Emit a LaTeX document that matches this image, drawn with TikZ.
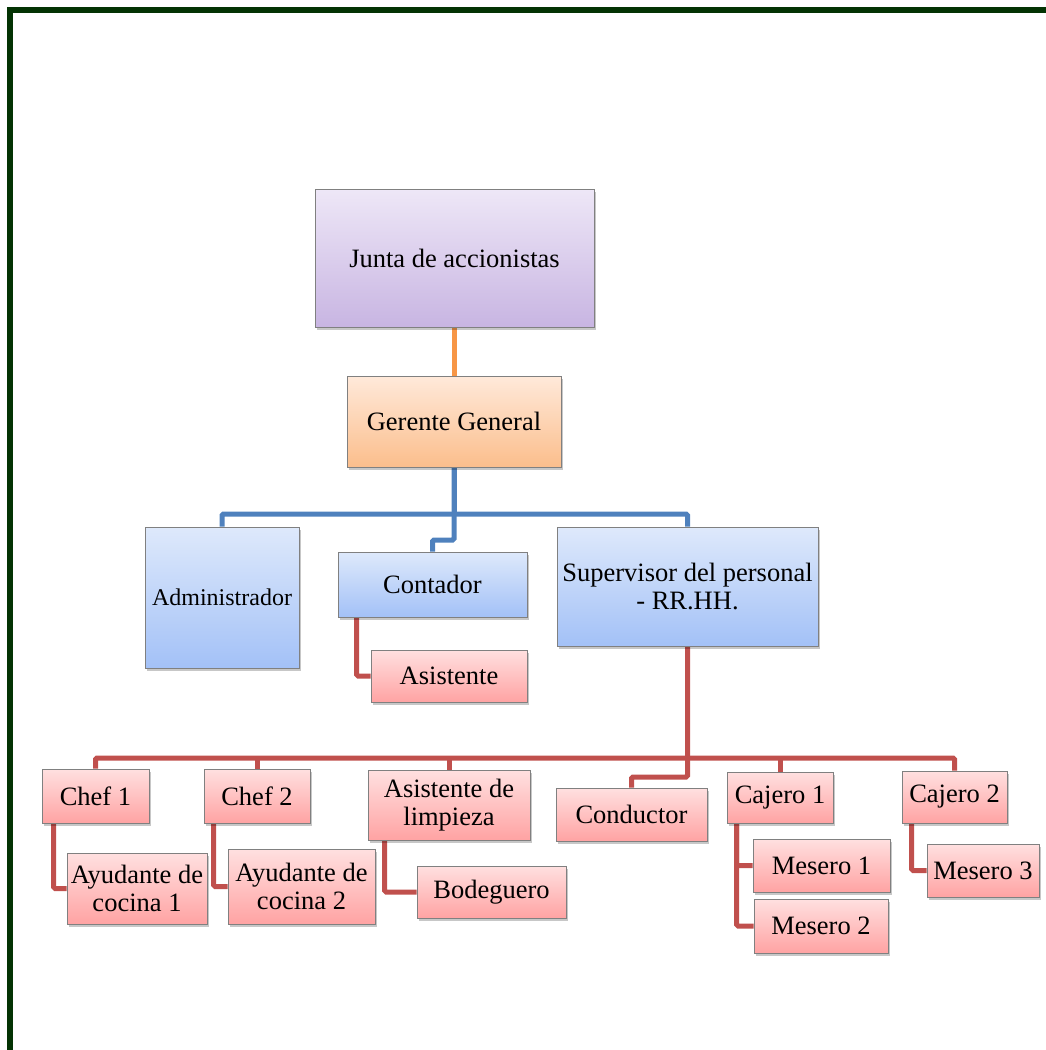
\documentclass[tikz,border=0pt]{standalone}
\usepackage{fontspec}
\setmainfont{Liberation Serif}
\usetikzlibrary{shadows,backgrounds}
\definecolor{framegreen}{RGB}{3,51,3}
\definecolor{boxborder}{RGB}{128,128,128}
\definecolor{purpleTop}{RGB}{238,231,247}
\definecolor{purpleBot}{RGB}{200,181,226}
\definecolor{orangeTop}{RGB}{255,233,218}
\definecolor{orangeBot}{RGB}{251,190,140}
\definecolor{blueTop}{RGB}{222,233,251}
\definecolor{blueBot}{RGB}{163,193,247}
\definecolor{redTop}{RGB}{255,224,224}
\definecolor{redBot}{RGB}{255,163,163}
\definecolor{orangeLine}{RGB}{247,150,70}
\definecolor{blueLine}{RGB}{79,129,189}
\definecolor{redLine}{RGB}{192,80,77}
\tikzset{
  box/.style={draw=boxborder, line width=0.9pt, align=center, inner sep=2pt,
    drop shadow={shadow xshift=2pt, shadow yshift=-3pt, fill=black, opacity=0.22},
    font=\fontsize{26.5}{28}\selectfont},
  purplebox/.style={box, top color=purpleTop, bottom color=purpleBot},
  orangebox/.style={box, top color=orangeTop, bottom color=orangeBot},
  bluebox/.style={box, top color=blueTop, bottom color=blueBot},
  redbox/.style={box, top color=redTop, bottom color=redBot},
  conn/.style={line width=5pt, rounded corners=1.5pt},
  oconn/.style={conn, draw=orangeLine},
  bconn/.style={conn, draw=blueLine},
  rconn/.style={conn, draw=redLine},
}
\begin{document}
\begin{tikzpicture}[x=1pt, y=-1pt]
\useasboundingbox (0,0) rectangle (1046,1050);
\draw[line width=6pt, framegreen] (10,1050) -- (10,10) -- (1046,10);

\node[purplebox, minimum width=279pt, minimum height=138pt] (junta) at (454.5,258) {Junta de accionistas};
\node[orangebox, minimum width=214pt, minimum height=91pt] (gerente) at (454,421.5) {Gerente General};
\node[bluebox, minimum width=154pt, minimum height=141pt, font=\fontsize{24}{26}\selectfont] (admin) at (222,597.5) {Administrador};
\node[bluebox, minimum width=189pt, minimum height=65pt] (contador) at (432.5,584.5) {Contador};
\node[bluebox, minimum width=261pt, minimum height=119pt] (super) at (687.5,586.5) {Supervisor del personal\\- RR.HH.};
\node[redbox, minimum width=156pt, minimum height=52pt] (asist) at (449,676) {Asistente};

\node[redbox, minimum width=107pt, minimum height=54pt] (chef1) at (95.5,796) {Chef 1};
\node[redbox, minimum width=140pt, minimum height=71pt] (ayud1) at (137,888.5) {Ayudante de\\cocina 1};
\node[redbox, minimum width=106pt, minimum height=54pt] (chef2) at (257,796) {Chef 2};
\node[redbox, minimum width=147pt, minimum height=75pt] (ayud2) at (301.5,886.5) {Ayudante de\\cocina 2};
\node[redbox, minimum width=162pt, minimum height=70pt] (limp) at (449,805) {Asistente de\\limpieza};
\node[redbox, minimum width=149pt, minimum height=52pt] (bode) at (491.5,892) {Bodeguero};
\node[redbox, minimum width=151pt, minimum height=53pt] (cond) at (631.5,814.5) {Conductor};
\node[redbox, minimum width=106pt, minimum height=51pt] (caj1) at (780,797.5) {Cajero 1};
\node[redbox, minimum width=137pt, minimum height=53pt] (mes1) at (821.5,865.5) {Mesero 1};
\node[redbox, minimum width=134pt, minimum height=54pt] (mes2) at (821,926) {Mesero 2};
\node[redbox, minimum width=105pt, minimum height=52pt] (caj2) at (954.5,797) {Cajero 2};
\node[redbox, minimum width=112pt, minimum height=53pt] (mes3) at (983,870.5) {Mesero 3};

\begin{pgfonlayer}{background}
\draw[oconn] (junta.south) -- (junta.south |- gerente.north);
\draw[bconn] (gerente.south) -- (gerente.south |- 0,540) -| (contador.north);
\draw[bconn] (admin.north) -- (admin.north |- 0,514) -- (super.north |- 0,514) -- (super.north);
\draw[bconn] (gerente.south) -- (gerente.south |- 0,514);
\draw[rconn] ([xshift=19pt]contador.south west) |- (asist.west);
\draw[rconn] (super.south) -- (super.south |- 0,777) -| (cond.north);
\draw[rconn] (chef1.north) -- (chef1.north |- 0,758) -- (caj2.north |- 0,758) -- (caj2.north);
\draw[rconn] (chef2.north) -- (chef2.north |- 0,758);
\draw[rconn] (limp.north) -- (limp.north |- 0,758);
\draw[rconn] (caj1.north) -- (caj1.north |- 0,758);
\draw[rconn] ([xshift=12pt]chef1.south west) |- (ayud1.west);
\draw[rconn] ([xshift=10pt]chef2.south west) |- (ayud2.west);
\draw[rconn] ([xshift=17pt]limp.south west) |- (bode.west);
\draw[rconn] ([xshift=10pt]caj1.south west) |- (mes2.west);
\draw[rconn] ([xshift=10pt]caj1.south west) |- (mes1.west);
\draw[rconn] ([xshift=10pt]caj2.south west) |- (mes3.west);
\end{pgfonlayer}
\end{tikzpicture}
\end{document}
